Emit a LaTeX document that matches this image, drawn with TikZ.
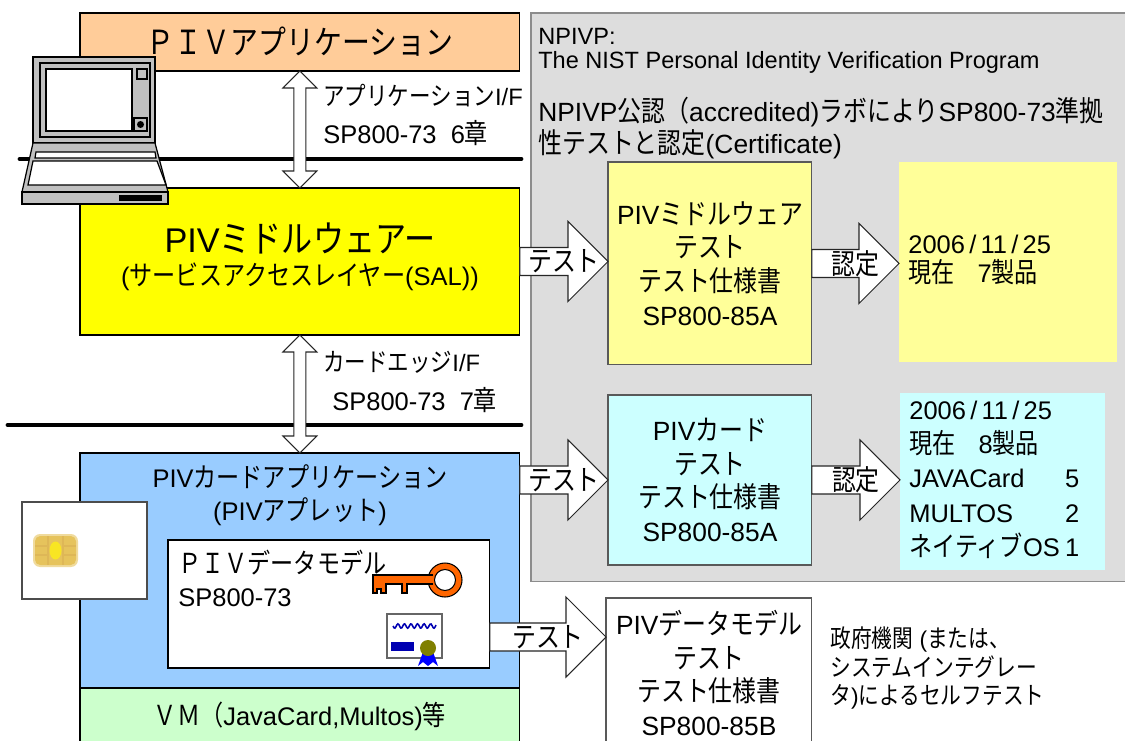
\documentclass[tikz,border=0pt]{standalone}
\usepackage{fontspec}
\setmainfont{Liberation Sans}
\newfontfamily\jpfont[Scale=1.08, FakeStretch=0.84]{Noto Sans CJK JP}
\newcommand{\jp}[1]{{\jpfont #1}}
\usetikzlibrary{calc}

\definecolor{apporange}{HTML}{FFCC99}
\definecolor{mwyellow}{HTML}{FFFF00}
\definecolor{cardblue}{HTML}{99CCFF}
\definecolor{vmgreen}{HTML}{CCFFCC}
\definecolor{npivpgray}{HTML}{DDDDDD}
\definecolor{testyellow}{HTML}{FFFF99}
\definecolor{testcyan}{HTML}{CCFFFF}
\definecolor{laptopgray}{HTML}{C0C0C0}
\definecolor{keyorange}{HTML}{FF6600}
\definecolor{chipgold}{HTML}{E6C35C}
\definecolor{sealolive}{HTML}{808000}

\tikzset{
  box/.style={draw=black, line width=0.6pt, anchor=north west, inner sep=0pt, outer sep=0pt},
  testbox/.style={box, draw=black!65, align=center, font=\fontsize{15}{19.2}\selectfont},
  certbox/.style={anchor=north west, inner sep=0pt, outer sep=0pt},
  bodytext/.style={inner sep=0pt, font=\fontsize{14.5}{17}\selectfont},
  labeltext/.style={anchor=west, inner sep=0pt, font=\fontsize{14.5}{16}\selectfont},
  headtext/.style={anchor=west, inner sep=0pt, font=\fontsize{13.4}{15}\selectfont},
  notetext/.style={anchor=west, align=left, inner sep=0pt, font=\fontsize{15}{18.7}\selectfont},
  resulttext/.style={anchor=west, align=left, inner sep=0pt, font=\fontsize{14.5}{17}\selectfont},
  selftext/.style={anchor=west, align=left, inner sep=0pt, font=\fontsize{13}{16.2}\selectfont},
  arrowtext/.style={inner sep=0pt, font=\fontsize{15}{15}\selectfont},
  blockarr/.style={draw=black!85, fill=white, line width=0.6pt, line join=miter},
  ifline/.style={line width=2.8pt, line cap=round},
  laptop/.style={draw=black, fill=laptopgray, line width=0.7pt},
  laptopline/.style={draw=black, line width=0.7pt},
  keypart/.style={draw=black, fill=keyorange, line width=0.6pt},
}

% block arrow pointing right: tail, tip, label, label name
\newcommand{\blockarrow}[4]{%
  \draw[blockarr] ($(#1)+(0,-14)$) -- ($(#2)+(-40,-14)$) -- ($(#2)+(-40,-40)$)
    -- (#2) -- ($(#2)+(-40,40)$) -- ($(#2)+(-40,14)$) -- ($(#1)+(0,14)$) -- cycle;
  \node[arrowtext] (#4) at ($(#1)!0.5!(#2)$) {#3};
}
% vertical double arrow: upper tip, lower tip
\newcommand{\dblarrow}[2]{%
  \draw[blockarr] (#1) -- ($(#1)+(17,17)$) -- ($(#1)+(6,17)$) -- ($(#2)+(6,-17)$)
    -- ($(#2)+(17,-17)$) -- (#2) -- ($(#2)+(-17,-17)$) -- ($(#2)+(-6,-17)$)
    -- ($(#1)+(-6,17)$) -- ($(#1)+(-17,17)$) -- cycle;
}

\begin{document}
\begin{tikzpicture}[x=0.02cm, y=-0.02cm]
	\fill[white] (0,0) rectangle (1125,740);
	\useasboundingbox (0,0) rectangle (1125,740);
	\clip (0,0) rectangle (1125,740);

	% NPIVP Bereich
	\node[box, draw=black!45, fill=npivpgray, minimum width=12cm, minimum height=11.38cm] (npivp) at (531,13) {};
	\node[headtext] (npivpname) at (538,36) {NPIVP:};
	\node[headtext] (nistname) at (538,62) {The NIST Personal Identity Verification Program};
	\node[notetext] (accr) at (538,128) {NPIVP\jp{公認（}accredited)\jp{ラボにより}SP800-73\jp{準拠}\\\jp{性テストと認定}(Certificate)};

	% Schichten links
	\node[box, fill=apporange, minimum width=8.8cm, minimum height=1.16cm, font=\fontsize{17.5}{20}\selectfont] (app) at (80,13) {\jp{ＰＩＶアプリケーション}};

	\node[box, fill=mwyellow, minimum width=8.8cm, minimum height=2.94cm] (mw) at (80,188) {};
	\node[inner sep=0pt, font=\fontsize{19.5}{22}\selectfont] (mwname) at (300,238) {PIV\jp{ミドルウェアー}};
	\node[bodytext] (mwsal) at (300,277) {(\jp{サービスアクセスレイヤー}(SAL))};

	\node[box, fill=cardblue, minimum width=8.8cm, minimum height=4.7cm] (cardapp) at (80,453) {};
	\node[bodytext] (cardname) at (300,477) {PIV\jp{カードアプリケーション}};
	\node[bodytext] (applet) at (300,512) {(PIV\jp{アプレット})};

	\node[box, fill=vmgreen, minimum width=8.8cm, minimum height=1.2cm] (vm) at (80,688) {};
	\node[bodytext] (vmname) at (300,716) {\jp{ＶＭ（}JavaCard,Multos)\jp{等}};

	% Schnittstellen
	\draw[ifline] (20,159) -- (521,159);
	\draw[ifline] (8,425) -- (521,425);
	\dblarrow{app.south}{mw.north}
	\dblarrow{mw.south}{cardapp.north}
	\node[labeltext, font=\fontsize{13.5}{16}\selectfont] (apiif) at (323,96) {\jp{アプリケーション}I/F};
	\node[labeltext] (apiref) at (323,133) {SP800-73\ \ 6\jp{章}};
	\node[labeltext, font=\fontsize{13.5}{16}\selectfont] (edgeif) at (323,362) {\jp{カードエッジ}I/F};
	\node[labeltext] (edgeref) at (332,400) {SP800-73\ \ 7\jp{章}};

	% Laptop
	\filldraw[laptop] (33,57) rectangle (155,143);
	\draw[laptopline] (40,63) rectangle (150,137);
	\filldraw[laptopline, fill=white] (46,69) rectangle (132,131);
	\draw[laptopline] (137,69) rectangle (147,79);
	\draw[laptopline] (134,118) rectangle (147,131);
	\fill (140.5,124.5) circle [radius=3.5];
	\filldraw[laptop] (33,143) -- (155,143) -- (168,192) -- (22,192) -- cycle;
	\filldraw[laptopline, fill=white] (36,152) -- (155,152) -- (156,158) -- (35,158) -- cycle;
	\filldraw[laptopline, fill=white] (33,161) -- (157,161) -- (166,185) -- (28,185) -- cycle;
	\filldraw[laptop] (22,192) rectangle (168,204);
	\fill (119,195) rectangle (162,201);

	% Chipkarte
	\node[box, draw=black!70, fill=white, minimum width=2.5cm, minimum height=1.94cm] (card) at (22,502) {};
	\fill[chipgold!60, rounded corners=4pt] (33,534) rectangle (78,567);
	\fill[chipgold, rounded corners=3pt] (35,536) rectangle (76,565);
	\draw[chipgold!70!brown, line width=0.8pt, opacity=0.6] (35,546) -- (48,546) (63,546) -- (76,546)
		(35,555) -- (48,555) (63,555) -- (76,555) (48,536) -- (48,565) (63,536) -- (63,565);
	\fill[yellow!70!chipgold] (55.5,550.5) ellipse [x radius=6, y radius=9];

	% Datenmodell
	\node[box, fill=white, minimum width=6.44cm, minimum height=2.56cm] (datamodel) at (168,540) {};
	\node[bodytext, anchor=west] (dmname) at (178,563) {\jp{ＰＩＶデータモデル}};
	\node[bodytext, anchor=west] (dmref) at (178,598) {SP800-73};

	% Schluessel
	\filldraw[keypart] (445,580) circle [radius=17];
	\filldraw[keypart] (433,575) -- (373,575) -- (373,593) -- (377,593) -- (377,589) -- (381,589)
		-- (381,593) -- (386,593) -- (386,584) -- (402,584) -- (402,593) -- (407,593) -- (407,584) -- (433,584);
	\filldraw[draw=black, fill=white, line width=0.6pt] (445,580) circle [radius=10.5];

	% Zertifikat
	\filldraw[draw=black!60, fill=white, line width=0.6pt] (387,614) rectangle (442,658);
	\draw[blue!70!black, line width=0.9pt] plot[domain=0:43, samples=45] ({393+\x}, {626+2.2*sin(\x*55)});
	\fill[blue!70!black] (391,642) rectangle (414,651);
	\fill[blue] (423,652) -- (418,666) -- (423,662) -- (428,666) -- (433,662) -- (438,666) -- (433,652) -- cycle;
	\fill[sealolive] (428,648) circle [radius=8];

	% Testboxen
	\node[testbox, fill=testyellow, minimum width=4.08cm, minimum height=4.06cm] (mwtest) at (608,162) {PIV\jp{ミドルウェア}\\\jp{テスト}\\\jp{テスト仕様書}\\SP800-85A};
	\node[testbox, fill=testcyan, minimum width=4.08cm, minimum height=3.4cm] (cardtest) at (608,395) {PIV\jp{カード}\\\jp{テスト}\\\jp{テスト仕様書}\\SP800-85A};
	\node[testbox, fill=white, minimum width=4.12cm, minimum height=3cm] (dmtest) at (606,598) {PIV\jp{データモデル}\\\jp{テスト}\\\jp{テスト仕様書}\\SP800-85B};

	% Ergebnisse
	\node[certbox, fill=testyellow, minimum width=4.36cm, minimum height=4cm] (mwcert) at (899,162) {};
	\node[resulttext] (mwcount) at (908,260) {2006\,/\,11\,/\,25\\\jp{現在　}7\jp{製品}};
	\node[certbox, fill=testcyan, minimum width=4.1cm, minimum height=3.54cm] (cardcert) at (900,393) {};
	\node[resulttext, font=\fontsize{14.5}{19.6}\selectfont] (cardcount) at (909,481) {%
		\begin{tabular}{@{}l@{\hspace{3pt}}l@{}}
		\multicolumn{2}{@{}l@{}}{2006\,/\,11\,/\,25}\\
		\multicolumn{2}{@{}l@{}}{\jp{現在　}8\jp{製品}}\\
		JAVACard & 5\\
		MULTOS & 2\\
		\jp{ネイティブ}OS & 1
		\end{tabular}};
	\node[selftext] (selftest) at (830,668) {\jp{政府機関} (\jp{または、}\\\jp{システムインテグレー}\\\jp{タ})\jp{によるセルフテスト}};

	% Pfeile
	\coordinate (t1) at (mwtest.west |- mw.east);
	\coordinate (t2) at (cardapp.east |- cardtest.west);
	\coordinate (c1) at (mwcert.west |- mwtest.east);
	\coordinate (c2) at (cardcert.west |- cardtest.east);
	\coordinate (lvl) at (0,637);
	\coordinate (t3a) at (datamodel.east |- lvl);
	\coordinate (t3b) at (dmtest.west |- lvl);
	\blockarrow{mw.east}{t1}{\jp{テスト}}{mwtestlbl}
	\blockarrow{t2}{cardtest.west}{\jp{テスト}}{cardtestlbl}
	\blockarrow{mwtest.east}{c1}{\jp{認定}}{mwcertlbl}
	\blockarrow{cardtest.east}{c2}{\jp{認定}}{cardcertlbl}
	\blockarrow{t3a}{t3b}{\jp{テスト}}{dmtestlbl}

	%\draw[help lines, step=50] (0,0) grid (1125,740);
\end{tikzpicture}
\end{document}
